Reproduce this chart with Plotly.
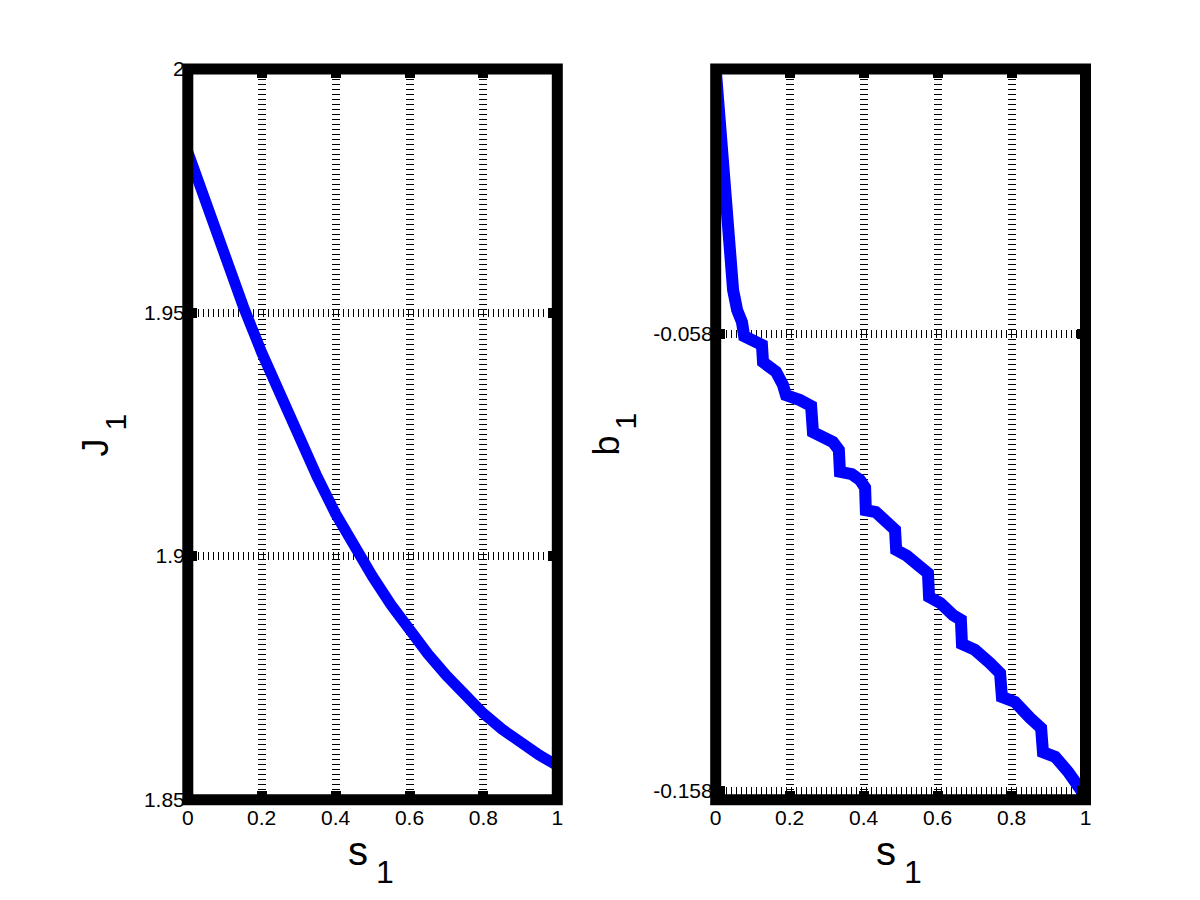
import plotly.graph_objects as go

# ---------------- data ----------------
s_left = [0.0, 0.05, 0.1, 0.15, 0.2, 0.25, 0.3, 0.35, 0.4, 0.45, 0.5,
          0.55, 0.6, 0.65, 0.7, 0.75, 0.8, 0.85, 0.9, 0.95, 1.0]
J1 = [1.9830, 1.9720, 1.9614, 1.9513, 1.9418, 1.9329, 1.9244, 1.9163, 1.9087, 1.9020, 1.8958,
      1.8900, 1.8847, 1.8799, 1.8755, 1.8714, 1.8677, 1.8645, 1.8617, 1.8592, 1.8570]

s_right = [0.000, 0.012, 0.022, 0.033, 0.047, 0.058, 0.071, 0.077, 0.106, 0.125,
           0.128, 0.147, 0.163, 0.182, 0.190, 0.228, 0.258, 0.263, 0.293, 0.317,
           0.333, 0.336, 0.368, 0.390, 0.404, 0.406, 0.433, 0.466, 0.485, 0.488,
           0.517, 0.553, 0.574, 0.577, 0.607, 0.642, 0.663, 0.666, 0.701, 0.742,
           0.769, 0.774, 0.809, 0.850, 0.880, 0.885, 0.918, 0.953, 0.985, 0.999]
b1 = [0.0000, -0.0123, -0.0243, -0.0374, -0.0484, -0.0528, -0.0554, -0.0585, -0.0593, -0.0604,
      -0.0642, -0.0655, -0.0663, -0.0692, -0.0714, -0.0725, -0.0738, -0.0795, -0.0804, -0.0817,
      -0.0834, -0.0882, -0.0887, -0.0900, -0.0917, -0.0966, -0.0970, -0.0996, -0.1009, -0.1053,
      -0.1066, -0.1090, -0.1104, -0.1156, -0.1169, -0.1196, -0.1206, -0.1259, -0.1272, -0.1301,
      -0.1323, -0.1375, -0.1386, -0.1421, -0.1443, -0.1496, -0.1506, -0.1539, -0.1579, -0.1592]

x_ticks = [0, 0.2, 0.4, 0.6, 0.8, 1]
x_ticktext = ["0", "0.2", "0.4", "0.6", "0.8", "1"]
yl_ticks = [1.85, 1.9, 1.95, 2.0]
yl_ticktext = ["1.85", "1.9", "1.95", "2"]
yr_ticks = [-0.158, -0.058]
yr_ticktext = ["-0.158", "-0.058"]

FONT = "Liberation Sans, Arial, sans-serif"
BLUE = "#0000FF"

fig = go.Figure()
fig.add_trace(go.Scatter(x=s_left, y=J1, mode="lines", xaxis="x", yaxis="y",
                         line=dict(color=BLUE, width=11), showlegend=False))
fig.add_trace(go.Scatter(x=s_right, y=b1, mode="lines", xaxis="x2", yaxis="y2",
                         line=dict(color=BLUE, width=12), showlegend=False))

ydom = [1 - 799.7 / 900, 1 - 69 / 900]

common = dict(showgrid=True, gridcolor="black", gridwidth=8, griddash="1px,4px",
              zeroline=False, showline=False, ticks="inside", ticklen=9, tickwidth=10,
              tickcolor="black", mirror="ticks", automargin=False,
              tickfont=dict(family=FONT, size=21, color="black"))

fig.update_layout(
    width=1200, height=900, autosize=False,
    margin=dict(l=0, r=0, t=0, b=0, pad=0),
    paper_bgcolor="white", plot_bgcolor="white",
    xaxis=dict(domain=[187.8 / 1200, 557.3 / 1200], range=[0, 1], anchor="y",
               tickvals=x_ticks, ticktext=x_ticktext, ticklabelstandoff=3, **common),
    yaxis=dict(domain=ydom, range=[1.85, 2.0], anchor="x",
               tickvals=yl_ticks, ticktext=yl_ticktext, ticklabelstandoff=2, **common),
    xaxis2=dict(domain=[715.7 / 1200, 1085.5 / 1200], range=[0, 1], anchor="y2",
                tickvals=x_ticks, ticktext=x_ticktext, ticklabelstandoff=3, **common),
    yaxis2=dict(domain=ydom, range=[-0.16, 0.0], anchor="x2",
                tickvals=yr_ticks, ticktext=yr_ticktext, ticklabelstandoff=2, **common),
)

# thick box frames
for xr, yr in (("x domain", "y domain"), ("x2 domain", "y2 domain")):
    fig.add_shape(type="rect", xref=xr, yref=yr, x0=0, x1=1, y0=0, y1=1,
                  line=dict(color="black", width=11), layer="above")

def ann(text, px, py, size, angle=0):
    fig.add_annotation(text=text, x=px / 1200, y=1 - py / 900, xref="paper", yref="paper",
                       showarrow=False, textangle=angle, xanchor="center", yanchor="middle",
                       font=dict(family=FONT, size=size, color="black"))

# x labels "s_1"
ann("s", 357.5, 851, 40)
ann("1", 384.5, 872, 32)
ann("s", 885.6, 851, 40)
ann("1", 912.6, 872, 32)
# y labels "J_1", "b_1"
ann("J", 94.5, 448, 36, -90)
ann("1", 114.6, 422, 30, -90)
ann("b", 605.5, 446, 36, -90)
ann("1", 624.6, 421, 30, -90)

fig.write_html(
    "out.html",
    config={"displayModeBar": False},
    post_script="document.body.style.margin='0';document.body.style.overflow='hidden';",
)
